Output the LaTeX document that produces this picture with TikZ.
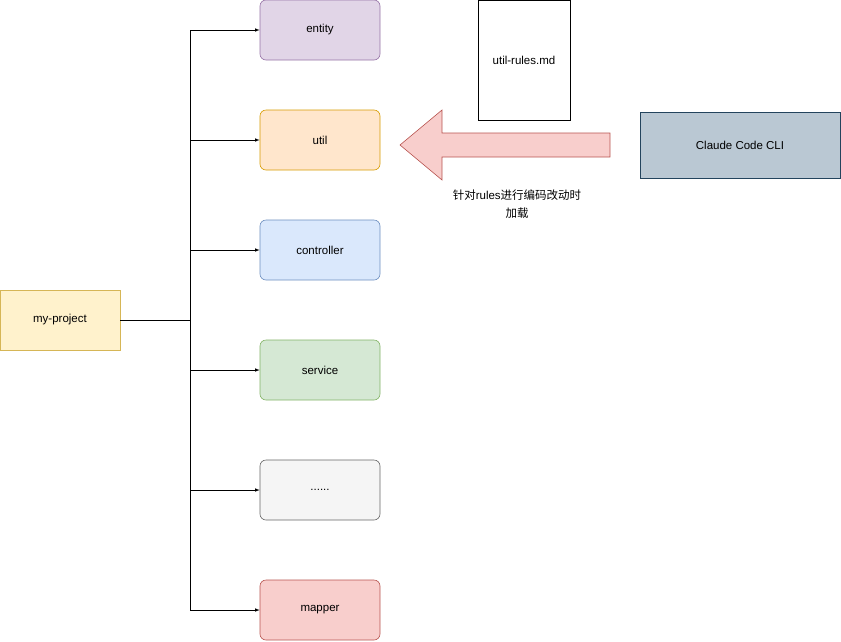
\documentclass[tikz,border=0pt]{standalone}
\usepackage{fontspec}
\setmainfont{Liberation Sans}
\newfontfamily\cjk{Noto Sans CJK SC}
\begin{document}
\begin{tikzpicture}[x=1pt,y=-1pt,font=\fontsize{11.5}{14}\selectfont,
 box/.style={draw,rounded corners=6pt,minimum width=120pt,minimum height=60pt,line width=0.6pt},
 sq/.style={draw,minimum width=120pt,minimum height=60pt,line width=0.6pt},
 conn/.style={-latex,line width=0.6pt}]
\useasboundingbox (0,0) rectangle (841,641);
\definecolor{ef}{HTML}{E1D5E7}\definecolor{es}{HTML}{9673A6}
\definecolor{uf}{HTML}{FFE6CC}\definecolor{us}{HTML}{D79B00}
\definecolor{cf}{HTML}{DAE8FC}\definecolor{cs}{HTML}{6C8EBF}
\definecolor{sf}{HTML}{D5E8D4}\definecolor{ss}{HTML}{82B366}
\definecolor{df}{HTML}{F5F5F5}\definecolor{ds}{HTML}{666666}
\definecolor{mf}{HTML}{F8CECC}\definecolor{ms}{HTML}{B85450}
\definecolor{pf}{HTML}{FFF2CC}\definecolor{ps}{HTML}{D6B656}
\definecolor{lf}{HTML}{BAC8D3}\definecolor{ls}{HTML}{23445D}
\node[box,fill=ef,draw=es] (entity) at (320,30) {entity};
\node[box,fill=uf,draw=us] (util) at (320,140) {util};
\node[box,fill=cf,draw=cs] (controller) at (320,250) {controller};
\node[box,fill=sf,draw=ss] (service) at (320,370) {service};
\node[box,fill=df,draw=ds] (dots) at (320,490) {......};
\node[box,fill=mf,draw=ms] (mapper) at (320,610) {mapper};
\node[sq,fill=pf,draw=ps] (proj) at (60,320) {my-project};
\node[draw,line width=0.6pt,minimum width=92pt,minimum height=120pt] (rules) at (524,60) {util-rules.md};
\node[sq,fill=lf,draw=ls,minimum width=200pt,minimum height=66pt] (cli) at (740,145) {Claude Code CLI};
\coordinate (j) at (190,320);
\draw[line width=0.6pt] (proj.east) -- (j);
\draw[line width=0.6pt] (190,30) -- (190,610);
\foreach \n/\y in {entity/30,util/140,controller/250,service/370,dots/490,mapper/610}
  \draw[conn] (190,\y) -- (\n.west);
\draw[fill=mf,draw=ms,line width=0.6pt] (610,133) -- (442,133) -- (442,110) -- (400,145) -- (442,180) -- (442,157) -- (610,157) -- cycle;
\node[align=center,font=\fontsize{11.5}{18}\selectfont] (lbl) at (517,204) {{\cjk 针对}rules{\cjk 进行编码改动时}\\{\cjk 加载}};
\end{tikzpicture}
\end{document}
